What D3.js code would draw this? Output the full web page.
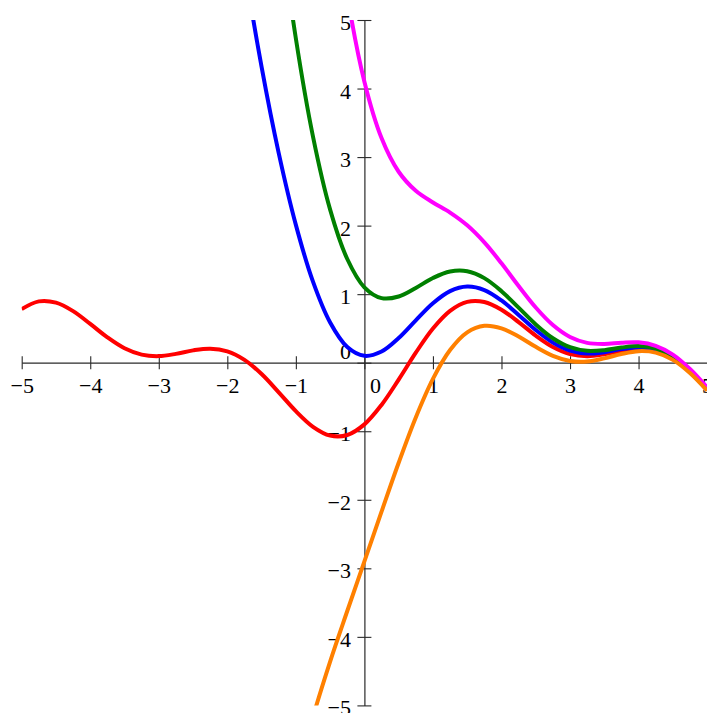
<!DOCTYPE html>
<html><head><meta charset="utf-8">
<script src="https://cdn.jsdelivr.net/npm/d3@7"></script>
<style>
html,body{margin:0;padding:0;background:#fff;overflow:hidden}
svg text{font-family:"Liberation Serif","Times New Roman",serif;font-size:22px;}
</style>
</head><body>
<svg id="chart" width="707" height="713"></svg>
<script>
// x sample positions (step 0.25 from -5 to 5)
const xValues = [-5,-4.75,-4.5,-4.25,-4,-3.75,-3.5,-3.25,-3,-2.75,-2.5,-2.25,-2,-1.75,-1.5,-1.25,-1,-0.75,-0.5,-0.25,0,0.25,0.5,0.75,1,1.25,1.5,1.75,2,2.25,2.5,2.75,3,3.25,3.5,3.75,4,4.25,4.5,4.75,5];

const redValues = [0.782,0.895,0.876,0.752,0.566,0.370,0.211,0.118,0.096,0.129,0.180,0.205,0.166,0.042,-0.166,-0.432,-0.707,-0.935,-1.063,-1.055,-0.900,-0.616,-0.247,0.146,0.499,0.757,0.888,0.886,0.773,0.592,0.395,0.229,0.126,0.095,0.123,0.174,0.205,0.176,0.063,-0.135,-0.395];

const blueValues = [null,null,null,null,null,null,null,null,null,null,null,null,7.555,5.797,4.316,3.058,2.011,1.182,0.586,0.229,0.100,0.163,0.360,0.618,0.867,1.044,1.111,1.060,0.908,0.697,0.477,0.293,0.176,0.134,0.153,0.198,0.223,0.190,0.074,-0.126,-0.388];

const greenValues = [null,null,null,null,null,null,null,null,null,null,null,null,null,null,8.797,6.549,4.730,3.299,2.234,1.513,1.100,0.942,0.966,1.091,1.235,1.330,1.334,1.234,1.044,0.803,0.559,0.357,0.226,0.173,0.183,0.221,0.242,0.205,0.085,-0.118,-0.382];

const magentaValues = [null,null,null,null,null,null,null,null,null,null,null,null,null,null,null,null,null,9.650,7.181,5.365,4.100,3.278,2.786,2.508,2.338,2.190,2.004,1.755,1.450,1.119,0.805,0.549,0.375,0.289,0.274,0.292,0.297,0.247,0.119,-0.092,-0.361];

const orangeValues = [null,null,null,null,null,null,null,null,null,null,null,null,null,null,null,null,-6.144,-5.169,-4.360,-3.623,-2.900,-2.174,-1.460,-0.799,-0.237,0.184,0.442,0.538,0.502,0.381,0.231,0.101,0.026,0.017,0.063,0.127,0.168,0.147,0.041,-0.152,-0.408];

const xTicks = [-5,-4,-3,-2,-1,0,1,2,3,4,5];
const yTicks = [-5,-4,-3,-2,-1,0,1,2,3,4,5];

const seriesList = [
  {values: redValues, color: "#ff0000"},
  {values: blueValues, color: "#0000ff"},
  {values: greenValues, color: "#008000"},
  {values: magentaValues, color: "#ff00ff"},
  {values: orangeValues, color: "#ff8000"}
];

const svg = d3.select("#chart");
const x = d3.scaleLinear().domain([-5, 5]).range([21.7, 707.1]);
const y = d3.scaleLinear().domain([-5, 5]).range([705.4, 20]);
const fmt = d3.format("");
const font = "Liberation Serif";

// x axis
const gx = svg.append("g")
  .attr("transform", `translate(0,${y(0)})`)
  .call(d3.axisBottom(x).tickValues(xTicks).tickSizeInner(6.5).tickSizeOuter(0).tickFormat(fmt));
gx.attr("font-family", font).attr("font-size", 22).attr("color", "#2a2a2a");
gx.select(".domain").attr("stroke-width", 1.2);
gx.selectAll(".tick line").attr("y1", -6.5).attr("y2", 6.5).attr("stroke-width", 1.1);
gx.selectAll(".tick text")
  .style("font-family", font).style("font-size", "22px")
  .attr("fill", "#000").attr("dy", 0).attr("y", 30.3)
  .attr("x", d => d === 0 ? 10.7 : 0);

// y axis
const gy = svg.append("g")
  .attr("transform", `translate(${x(0)},0)`)
  .call(d3.axisLeft(y).tickValues(yTicks).tickSizeInner(7).tickSizeOuter(0).tickFormat(fmt));
gy.attr("font-family", font).attr("font-size", 22).attr("color", "#2a2a2a");
gy.select(".domain").attr("stroke-width", 1.2);
gy.selectAll(".tick line").attr("x1", 7).attr("x2", -7).attr("stroke-width", 1.1);
gy.selectAll(".tick text")
  .style("font-family", font).style("font-size", "22px")
  .attr("fill", "#000").attr("dy", 0).attr("x", -13.5)
  .attr("y", d => d === 0 ? -4.7 : 9.5);

// clip
svg.append("clipPath").attr("id", "plotclip")
  .append("rect")
  .attr("x", x(-5)).attr("y", y(5))
  .attr("width", x(5) - x(-5)).attr("height", y(-5) - y(5));

const line = d3.line()
  .defined(d => d[1] !== null)
  .x(d => x(d[0]))
  .y(d => y(d[1]))
  .curve(d3.curveCatmullRom.alpha(0.5));

const curves = svg.append("g").attr("clip-path", "url(#plotclip)");
seriesList.forEach(s => {
  const pts = xValues.map((xv, i) => [xv, s.values[i]]);
  curves.append("path")
    .datum(pts)
    .attr("d", line)
    .attr("fill", "none")
    .attr("stroke", s.color)
    .attr("stroke-width", 4)
    .attr("stroke-linejoin", "round");
});
</script>
</body></html>
